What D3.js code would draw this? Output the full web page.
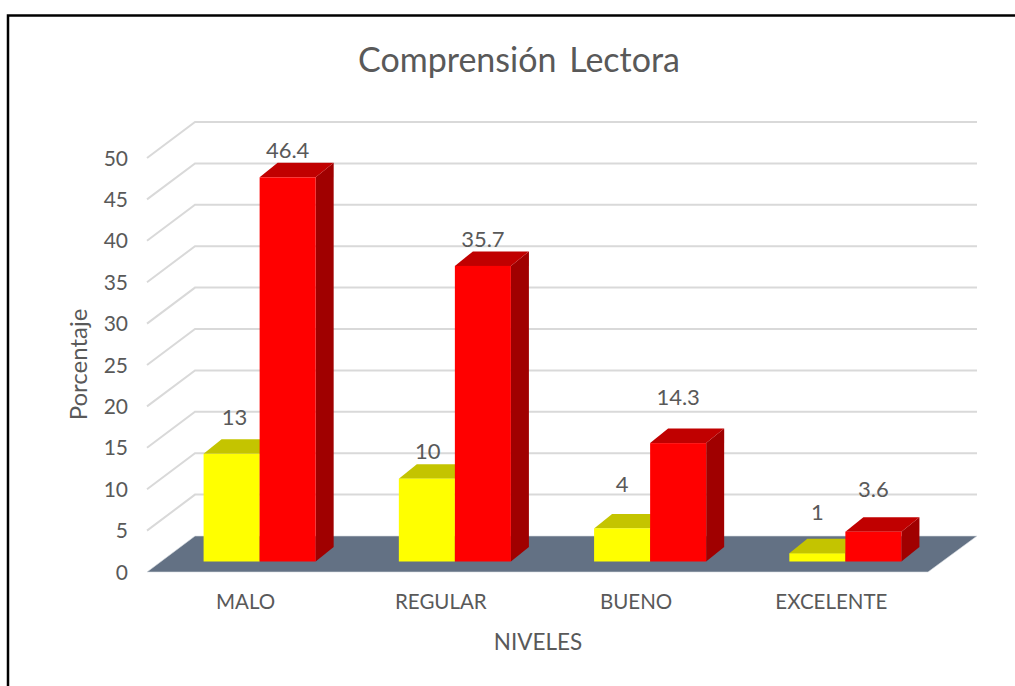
<!DOCTYPE html>
<html><head><meta charset="utf-8">
<script src="https://cdn.jsdelivr.net/npm/d3@7"></script>
<style>html,body{margin:0;padding:0;background:#fff}svg{display:block}text{font-family:Lato,"Open Sans",sans-serif;fill:#595959}</style>
</head><body><svg id="c" width="1015" height="686"></svg>
<script>
const categories = ["MALO","REGULAR","BUENO","EXCELENTE"];
const yellowValues = [13,10,4,1];
const redValues = [46.4,35.7,14.3,3.6];
const yellowLabels = ["13","10","4","1"];
const redLabels = ["46.4","35.7","14.3","3.6"];
const yTicks = [0,5,10,15,20,25,30,35,40,45,50];
const title = "Comprensión Lectora";
const xTitle = "NIVELES";
const yTitle = "Porcentaje";
const colors = [{front:"#ffff00",top:"#c4c400",side:"#a0a000"},{front:"#ff0000",top:"#c00000",side:"#a00000"}];

const svg = d3.select("#c");
// frame: only left and top edges are visible
svg.append("path").attr("d","M8,686V15.5H1015").attr("fill","none").attr("stroke","#000").attr("stroke-width",2.5);

const y = d3.scaleLinear().domain([0,50]).range([572,158]);
const x0 = d3.scaleBand().domain(categories).range([162,943]).paddingInner(0.426).paddingOuter(0.213);
const x1 = d3.scaleBand().domain([0,1]).range([0,x0.bandwidth()]);
const depth = {x:48,y:-36};
const barDepth = {x:18,y:-14.5};
const barBase = -10.5;

// wall gridlines
const grid = svg.append("g").attr("fill","none").attr("stroke","#d9d9d9").attr("stroke-width",2);
grid.selectAll("path").data(yTicks.filter(d=>d>0)).join("path")
  .attr("d",d=>`M147,${y(d)}L${147+depth.x},${y(d)+depth.y}H977`);
// floor
svg.append("polygon").attr("fill","#637184").attr("stroke","#d9dde2").attr("stroke-width",.6)
  .attr("points",[[147,y(0)],[147+depth.x,y(0)+depth.y],[977,y(0)+depth.y],[928,y(0)]].join(" "));

// bars
const unit = y(0)-y(1);
function drawBar(g,cat,si,v){
  const c=colors[si], xl=x0(cat)+x1(si), w=x1.bandwidth(), yb=y(0)+barBase, yt=yb-v*unit;
  const dx=barDepth.x, dy=barDepth.y;
  g.append("polygon").attr("fill",c.side).attr("points",[[xl+w,yt],[xl+w+dx,yt+dy],[xl+w+dx,yb+dy],[xl+w,yb]].join(" "));
  g.append("polygon").attr("fill",c.top).attr("points",[[xl,yt],[xl+dx,yt+dy],[xl+w+dx,yt+dy],[xl+w,yt]].join(" "));
  g.append("rect").attr("fill",c.front).attr("x",xl).attr("y",yt).attr("width",w).attr("height",yb-yt);
}
const bars = svg.append("g");
categories.forEach((cat,i)=>{ drawBar(bars,cat,0,yellowValues[i]); });
categories.forEach((cat,i)=>{ drawBar(bars,cat,1,redValues[i]); });

// y tick labels
svg.append("g").selectAll("text").data(yTicks).join("text")
  .attr("x",128).attr("y",d=>y(d)+7.5).attr("text-anchor","end").attr("font-size",21).text(d=>d);
// x labels
svg.append("g").selectAll("text").data(categories).join("text")
  .attr("x",d=>x0(d)+x0.bandwidth()/2-14).attr("y",609).attr("text-anchor","middle").attr("font-size",20.5).text(d=>d);
// data labels
const lab = svg.append("g").attr("font-size",22).attr("text-anchor","middle");
const gapYellow=[29,20,36,33], gapRed=[19.5,18.5,38,35], shiftYellow=[3,1,0,0];
categories.forEach((cat,i)=>{
  const yb=y(0)+barBase;
  lab.append("text").attr("x",x0(cat)+x1(0)+x1.bandwidth()/2+shiftYellow[i]).attr("y",yb-yellowValues[i]*unit-gapYellow[i]).text(yellowLabels[i]);
  lab.append("text").attr("x",x0(cat)+x1(1)+x1.bandwidth()/2).attr("y",yb-redValues[i]*unit-gapRed[i]).text(redLabels[i]);
});
// titles
svg.append("text").attr("x",519).attr("y",72).attr("text-anchor","middle").attr("font-size",34).attr("word-spacing",4).text(title);
svg.append("text").attr("x",538).attr("y",650).attr("text-anchor","middle").attr("font-size",22.5).text(xTitle);
svg.append("text").attr("transform","translate(87,364.5) rotate(-90)").attr("text-anchor","middle").attr("font-size",24).text(yTitle);
</script></body></html>
